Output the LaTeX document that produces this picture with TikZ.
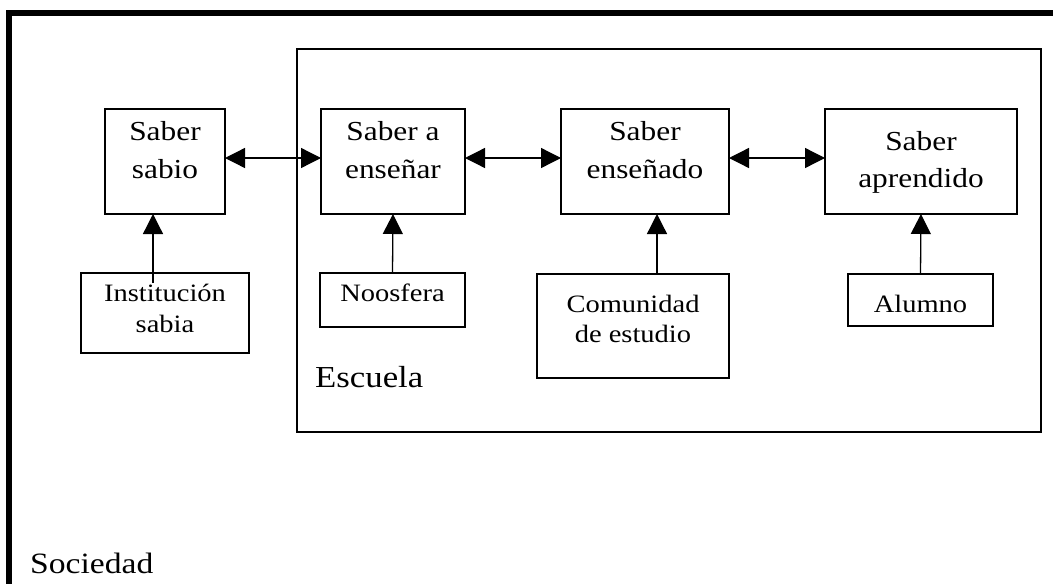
\documentclass[tikz,border=0pt]{standalone}
\usepackage{fontspec}
\setmainfont{Liberation Serif}[FakeStretch=1.14]
\usetikzlibrary{arrows.meta}
\newcommand{\bxt}[4]{\parbox[c][#2][t]{#1}{\centering\rule{0pt}{#3}#4\par}}
\newcommand{\bigf}{\fontsize{27.5}{38}\selectfont}
\newcommand{\smallf}{\fontsize{25}{31}\selectfont}
\begin{document}
\begin{tikzpicture}[x=1pt,y=-1pt,
  boxnode/.style={draw, line width=1.3pt, inner sep=0pt, outer sep=0pt},
  frameline/.style={line width=5.6pt},
  conn/.style={line width=1.3pt, -{Triangle[length=20pt,width=20pt]}},
  dconn/.style={line width=1.3pt, {Triangle[length=20pt,width=20pt]}-{Triangle[length=20pt,width=20pt]}},
  biglabel/.style={inner sep=0pt, anchor=base west, font=\fontsize{30.5}{34}\selectfont}]
\useasboundingbox (0,0) rectangle (1053,584);
% outer frame (Sociedad)
\coordinate (fbl) at (9,600);
\coordinate (ftl) at (9,13);
\coordinate (ftr) at (1070,13);
\draw[frameline] (fbl) -- (ftl) -- (ftr);
% Escuela box
\node[draw, line width=1.6pt, inner sep=0pt, minimum width=744pt, minimum height=383pt] (esc) at (669,240.5) {};
% top row
\node[boxnode] (ss)  at (165,161.5) {\bxt{120pt}{105pt}{31pt}{\bigf Saber\\sabio}};
\node[boxnode] (sae) at (393,161.5) {\bxt{144pt}{105pt}{31pt}{\bigf Saber a\\enseñar}};
\node[boxnode] (se)  at (645,161.5) {\bxt{168pt}{105pt}{31pt}{\bigf Saber\\enseñado}};
\node[boxnode] (sa)  at (921,161.5) {\bxt{192pt}{105pt}{41pt}{\fontsize{27.5}{37}\selectfont Saber\\aprendido}};
% bottom row
\node[boxnode] (is)  at (165,313)   {\bxt{168pt}{80pt}{28pt}{\smallf Institución\\sabia}};
\node[boxnode] (noo) at (392.5,300) {\bxt{145pt}{54pt}{28pt}{\smallf Noosfera}};
\node[boxnode] (com) at (633,326)   {\bxt{192pt}{104pt}{38pt}{\fontsize{25}{30}\selectfont Comunidad\\de estudio}};
\node[boxnode] (alu) at (920.5,300) {\bxt{145pt}{52pt}{38pt}{\smallf Alumno}};
% labels
\node[biglabel] (escl) at (315,387) {Escuela};
\node[biglabel, font=\fontsize{29.5}{34}\selectfont] (soc) at (30,573) {Sociedad};
% horizontal connectors
\draw[dconn] ([yshift=3.5pt]ss.east) -- ([yshift=3.5pt]sae.west);
\draw[dconn] ([yshift=3.5pt]sae.east) -- ([yshift=3.5pt]se.west);
\draw[dconn] ([yshift=3.5pt]se.east) -- ([yshift=3.5pt]sa.west);
% vertical connectors
\draw[conn] ([xshift=-12pt,yshift=-10pt]is.north) -- ([xshift=-12pt]ss.south);
\draw[conn] (noo.north) -- (sae.south);
\draw[conn] ([xshift=24pt]com.north) -- ([xshift=12pt]se.south);
\draw[conn] (alu.north) -- (sa.south);
\end{tikzpicture}
\end{document}
